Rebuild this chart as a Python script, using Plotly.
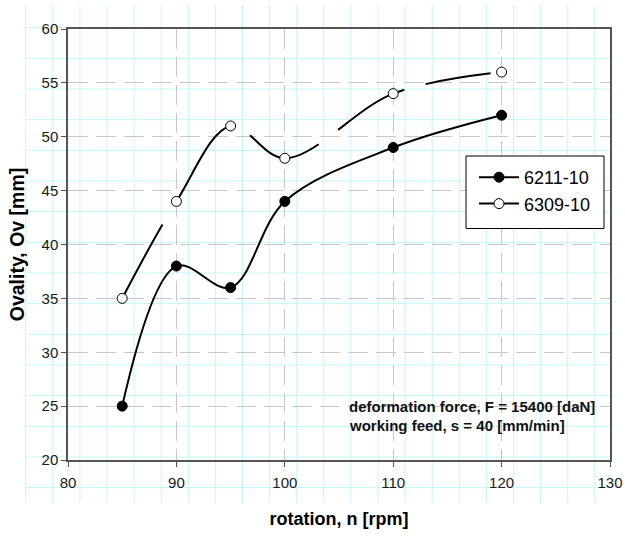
import plotly.graph_objects as go

# Rotation speed [rpm] and measured ovality [mm] for the two bearing rings
rpm = [85, 90, 95, 100, 110, 120]
ov_6211 = [25, 38, 36, 44, 49, 52]
ov_6309 = [35, 44, 51, 48, 54, 56]

x_ticks = [80, 90, 100, 110, 120, 130]
y_ticks = [20, 25, 30, 35, 40, 45, 50, 55, 60]

W, H = 625, 538
M = dict(l=68, r=15, t=29, b=78)
PW = W - M["l"] - M["r"]
PH = H - M["t"] - M["b"]


def px(x):
    return (x - M["l"]) / PW


def py(y):
    return (H - M["b"] - y) / PH


FONT = "Arial, Liberation Sans, sans-serif"

fig = go.Figure()

fig.add_trace(go.Scatter(
    x=rpm, y=ov_6211, name="6211-10", mode="lines+markers",
    line=dict(color="black", width=2, shape="spline", smoothing=1),
    marker=dict(symbol="circle", size=10, color="black",
                line=dict(color="black", width=1)),
))
fig.add_trace(go.Scatter(
    x=rpm, y=ov_6309, name="6309-10", mode="lines+markers",
    line=dict(color="black", width=2, shape="spline", smoothing=1,
              dash="84px,26px,96px,22px,80px,24px,78px,22px,66px,40px"),
    marker=dict(symbol="circle", size=10, color="white",
                line=dict(color="black", width=1)),
))

shapes = []
# graph-paper background behind the figure
GRID_C = "#c4f7f7"
gx0, gdx = 25.7, 27.1
gy0, gdy = 27.7, 30.66
for k in range(22):
    xx = gx0 + k * gdx
    shapes.append(dict(type="line", xref="paper", yref="paper", layer="below",
                       x0=px(xx), x1=px(xx), y0=py(5), y1=py(503),
                       line=dict(color=GRID_C, width=1)))
for k in range(16):
    yy = gy0 + k * gdy
    shapes.append(dict(type="line", xref="paper", yref="paper", layer="below",
                       x0=px(25.7), x1=px(612), y0=py(yy), y1=py(yy),
                       line=dict(color=GRID_C, width=1)))

# legend frame
shapes.append(dict(type="rect", xref="paper", yref="paper", layer="above",
                   x0=px(466), x1=px(604), y0=py(228.5), y1=py(156),
                   fillcolor="white", line=dict(color="black", width=1)))

axis_common = dict(
    showline=True, mirror=True, linecolor="#555555", linewidth=1.5,
    ticks="outside", ticklen=5, tickcolor="#555555", tickwidth=1,
    showgrid=True, gridcolor="#c8c8c8", gridwidth=1, griddash="20px,8px",
    zeroline=False, automargin=False,
    tickfont=dict(family=FONT, size=15, color="#1a1a1a"),
)

fig.update_layout(
    template="none",
    width=W, height=H, margin=M,
    paper_bgcolor="white", plot_bgcolor="white",
    shapes=shapes,
    showlegend=True,
    legend=dict(x=px(474), y=py(159), xanchor="left", yanchor="top",
                bgcolor="rgba(0,0,0,0)", borderwidth=0, itemwidth=40,
                font=dict(family=FONT, size=18, color="black")),
    xaxis=dict(range=[80, 130], tickvals=x_ticks,
               ticktext=[str(v) for v in x_ticks],
               ticklabelstandoff=3,
               title=dict(text="<b>rotation, n [rpm]</b>", standoff=23,
                          font=dict(family=FONT, size=18, color="black")),
               **axis_common),
    yaxis=dict(range=[20, 60], tickvals=y_ticks,
               ticktext=[str(v) for v in y_ticks],
               title=dict(text="<b>Ovality, Ov [mm]</b>", standoff=12,
                          font=dict(family=FONT, size=19.5, color="black")),
               **axis_common),
    annotations=[
        dict(text="<b>deformation force, F = 15400 [daN]</b>",
             xref="paper", yref="paper", x=px(347), y=py(406),
             xanchor="left", yanchor="middle", showarrow=False,
             font=dict(family=FONT, size=15, color="#111111")),
        dict(text="<b>working feed, s = 40 [mm/min]</b>",
             xref="paper", yref="paper", x=px(347), y=py(425.7),
             xanchor="left", yanchor="middle", showarrow=False,
             font=dict(family=FONT, size=15, color="#111111")),
    ],
)

fig.write_html("out.html")
